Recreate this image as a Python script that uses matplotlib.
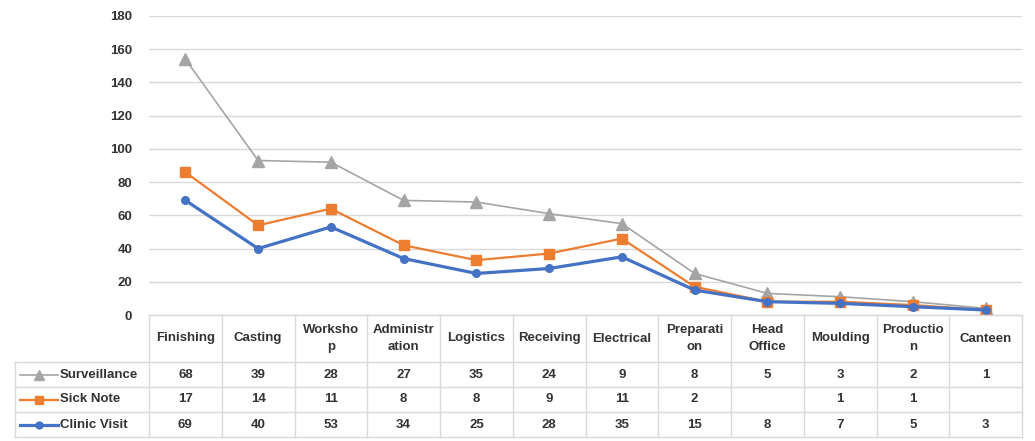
import matplotlib
matplotlib.use("Agg")
import matplotlib.pyplot as plt
import numpy as np

plt.rcParams['font.family'] = ['Liberation Sans', 'DejaVu Sans']

categories = ['Finishing', 'Casting', 'Worksho\np', 'Administr\nation', 'Logistics', 'Receiving',
              'Electrical', 'Preparati\non', 'Head\nOffice', 'Moulding', 'Productio\nn', 'Canteen']
clinic_visit = [69, 40, 53, 34, 25, 28, 35, 15, 8, 7, 5, 3]
sick_note = [17, 14, 11, 8, 8, 9, 11, 2, None, 1, 1, None]
surveillance = [68, 39, 28, 27, 35, 24, 9, 8, 5, 3, 2, 1]

blue, orange, grey = '#4472C4', '#ED7D31', '#A5A5A5'
grid_c = '#d9d9d9'
txt_c = '#333333'

W, H = 1035, 441
fig = plt.figure(figsize=(W / 100, H / 100), dpi=100)

# plot area
x_left, x_right, y_top, y_bot = 149, 1022, 16, 315
ax = fig.add_axes([x_left / W, 1 - y_bot / H, (x_right - x_left) / W, (y_bot - y_top) / H])

def num(v):
    return np.array([0 if x is None else x for x in v], dtype=float)

s1 = num(clinic_visit)
s2 = s1 + num(sick_note)
s3 = s2 + num(surveillance)
x = np.arange(len(categories))

ax.plot(x, s3, color=grey, lw=1.2, marker='^', ms=8, zorder=3)
ax.plot(x, s2, color=orange, lw=1.6, marker='s', ms=6.5, zorder=4)
ax.plot(x, s1, color=blue, lw=2.3, marker='o', ms=5.5, zorder=5)

ax.set_xlim(-0.5, len(categories) - 0.5)
ax.set_ylim(0, 180)
ax.set_yticks(range(0, 181, 20))
ax.set_xticks([])
ax.grid(axis='y', color=grid_c, lw=1)
ax.set_axisbelow(True)
for sp in ax.spines.values():
    sp.set_visible(False)
ax.tick_params(axis='y', length=0, pad=12, labelsize=9.5, labelcolor=txt_c)
for lab in ax.get_yticklabels():
    lab.set_fontweight('bold')

# data table
tab = fig.add_axes([0, 0, 1, 1])
tab.set_xlim(0, W)
tab.set_ylim(H, 0)
tab.axis('off')

col_w = (x_right - x_left) / len(categories)
edges = [x_left + i * col_w for i in range(len(categories) + 1)]
rows = [315, 362, 387, 412, 437]
lab_left = 15

tab.plot([x_left, x_right], [rows[0], rows[0]], color=grid_c, lw=1)
for r in rows[1:]:
    tab.plot([lab_left, x_right], [r, r], color=grid_c, lw=1)
for e in edges:
    tab.plot([e, e], [rows[0], rows[-1]], color=grid_c, lw=1)
tab.plot([lab_left, lab_left], [rows[1], rows[-1]], color=grid_c, lw=1)

for i, c in enumerate(categories):
    tab.text(edges[i] + col_w / 2, (rows[0] + rows[1]) / 2, c, ha='center', va='center',
             fontsize=9.5, color=txt_c, fontweight='bold', linespacing=1.6)

series = [('Surveillance', surveillance, grey, '^', 7, 1.2),
          ('Sick Note', sick_note, orange, 's', 6, 1.6),
          ('Clinic Visit', clinic_visit, blue, 'o', 5, 2.3)]
for k, (name, vals, col, mk, ms, lw) in enumerate(series):
    yc = (rows[k + 1] + rows[k + 2]) / 2
    tab.plot([20, 58], [yc, yc], color=col, lw=lw)
    tab.plot([39], [yc], color=col, marker=mk, ms=ms)
    tab.text(60, yc, name, ha='left', va='center', fontsize=9.5, color=txt_c, fontweight='bold')
    for i, v in enumerate(vals):
        if v is not None:
            tab.text(edges[i] + col_w / 2, yc, str(v), ha='center', va='center',
                     fontsize=9.5, color=txt_c, fontweight='bold')

fig.savefig('out.png', dpi=100)
